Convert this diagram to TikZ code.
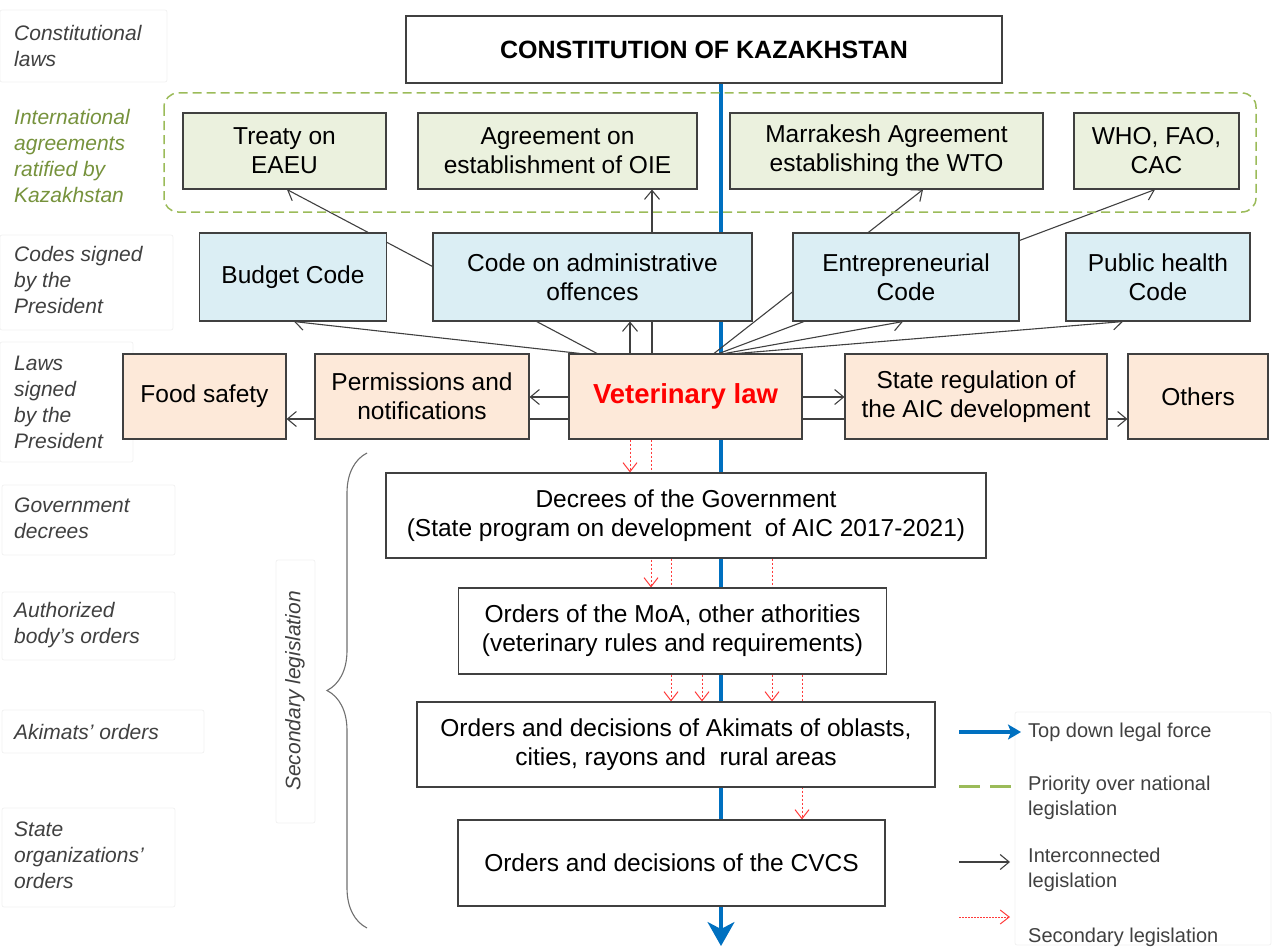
\documentclass[tikz,border=0pt]{standalone}
\usepackage{fontspec}
\setmainfont{Liberation Sans}
\usetikzlibrary{arrows.meta,decorations.pathreplacing,backgrounds}
\definecolor{bdr}{HTML}{404040}
\definecolor{gfill}{HTML}{EBF1DE}
\definecolor{bfill}{HTML}{DBEEF4}
\definecolor{ofill}{HTML}{FDE9D9}
\definecolor{forceblue}{HTML}{0070C0}
\definecolor{oliveg}{HTML}{9BBB59}
\definecolor{olivetext}{HTML}{76923C}
\definecolor{secred}{HTML}{FF3B3B}
\definecolor{lblgray}{HTML}{404040}
\definecolor{faint}{HTML}{F1F1F1}
\definecolor{bracegray}{HTML}{707070}
\newcommand\myboxfont{\fontsize{24.5pt}{29pt}\selectfont}
\newcommand\mylblfont{\fontsize{21pt}{26pt}\selectfont\itshape}
\newcommand\mylegfont{\fontsize{20pt}{25pt}\selectfont}
\tikzset{
  lawbox/.style={draw=bdr, line width=1.1pt, align=center, inner sep=0pt, font=\myboxfont, text=black},
  gbox/.style={lawbox, fill=gfill},
  bbox/.style={lawbox, fill=bfill},
  obox/.style={lawbox, fill=ofill},
  wbox/.style={lawbox, fill=white},
  lbl/.style={anchor=west, align=left, font=\mylblfont, text=lblgray, inner sep=0pt},
  legtxt/.style={anchor=west, align=left, font=\mylegfont, text=lblgray, inner sep=0pt},
  faintbox/.style={draw=faint, line width=0.8pt, rounded corners=2pt},
  link/.style={draw=bdr, line width=1.1pt, -{Straight Barb[length=9pt,width=15pt]}},
  secarrow/.style={draw=secred, line width=1pt, dash pattern=on 2.5pt off 1.5pt, -{Straight Barb[length=9pt,width=14pt]}},
  force/.style={draw=forceblue, line width=3.2pt, -{Stealth[length=24pt,width=27pt,inset=7pt]}}
}
\begin{document}
\begin{tikzpicture}[x=1pt,y=-1pt]
\useasboundingbox (0,0) rectangle (1273,947);

% faint label frames
\draw[faintbox] (0,10) rectangle (167,82);
\draw[faintbox] (0,235) rectangle (173,330);
\draw[faintbox] (0,342) rectangle (133,462);
\draw[faintbox] (2,485) rectangle (175,555);
\draw[faintbox] (2,592) rectangle (175,660);
\draw[faintbox] (2,710) rectangle (204,753);
\draw[faintbox] (2,808) rectangle (175,907);
\draw[faintbox] (276,560) rectangle (315,823);
\draw[faintbox] (1015,712) rectangle (1271,945);

% left labels
\node[lbl] (lcon) at (14,46) {Constitutional\\laws};
\node[lbl, text=olivetext] (lint) at (14,156) {International\\agreements\\ratified by\\Kazakhstan};
\node[lbl] (lcod) at (14,280) {Codes signed\\by the\\President};
\node[lbl] (llaw) at (14,402) {Laws\\signed\\by the\\President};
\node[lbl] (lgov) at (14,518) {Government\\decrees};
\node[lbl] (laut) at (14,625) {Authorized\\body's orders};
\node[lbl] (laki) at (14,732) {Akimats' orders};
\node[lbl] (lsta) at (14,855) {State\\organizations'\\orders};
\node[lbl, rotate=90, anchor=center] (lsec) at (295,691) {Secondary legislation};

% green dashed frame
\draw[oliveg, line width=1.5pt, dash pattern=on 9pt off 5pt, rounded corners=14pt] (164,93) rectangle (1256,212);

% constitution
\node[wbox, minimum width=596pt, minimum height=67pt, font=\fontsize{25pt}{29pt}\selectfont\bfseries] (const) at (704,49.5) {CONSTITUTION OF KAZAKHSTAN};

% international agreements
\node[gbox, minimum width=203pt, minimum height=76pt] (treaty) at (284.5,151) {Treaty on\\EAEU};
\node[gbox, minimum width=279pt, minimum height=76pt] (oie) at (557.5,151) {Agreement on\\establishment of OIE};
\node[gbox, minimum width=313pt, minimum height=76pt] (wto) at (886.5,151) {Marrakesh Agreement\\establishing the WTO};
\node[gbox, minimum width=165pt, minimum height=76pt] (who) at (1156.5,151) {WHO, FAO,\\CAC};

% codes
\node[bbox, minimum width=187pt, minimum height=88pt] (budget) at (293,277) {Budget Code};
\node[bbox, minimum width=319pt, minimum height=88pt] (admin) at (592.5,277) {Code on administrative\\offences};
\node[bbox, minimum width=226pt, minimum height=88pt] (entre) at (906,277) {Entrepreneurial\\Code};
\node[bbox, minimum width=184pt, minimum height=88pt] (health) at (1158,277) {Public health\\Code};

% laws
\node[obox, minimum width=163pt, minimum height=85pt] (food) at (204.5,396.5) {Food safety};
\node[obox, minimum width=214pt, minimum height=85pt] (perm) at (422,396.5) {Permissions and\\notifications};
\node[obox, minimum width=233pt, minimum height=85pt, font=\fontsize{27.5pt}{32pt}\selectfont\bfseries, text=red] (vet) at (685.5,396.5) {Veterinary law};
\node[obox, minimum width=262pt, minimum height=85pt] (state) at (976,396.5) {State regulation of\\the AIC development};
\node[obox, minimum width=140pt, minimum height=85pt] (others) at (1198,396.5) {Others};

% secondary legislation
\node[wbox, minimum width=600pt, minimum height=85pt] (dec) at (686,515.5) {Decrees of the Government\\(State program on development\ \ of AIC 2017-2021)};
\node[wbox, minimum width=428pt, minimum height=86pt] (moa) at (672.5,631) {Orders of the MoA, other athorities\\(veterinary rules and requirements)};
\node[wbox, minimum width=518pt, minimum height=85pt] (akim) at (676,744.5) {Orders and decisions of Akimats of oblasts,\\cities, rayons and\ \ rural areas};
\node[wbox, minimum width=427pt, minimum height=86pt] (cvcs) at (671.5,863) {Orders and decisions of the CVCS};

% brace
\draw[decorate, decoration={brace, amplitude=40pt}, draw=bracegray, line width=1.1pt] (367,928) -- (367,453);

\begin{scope}[on background layer]
  \draw[force] (721,0 |- const.south) -- (721,946);
  % interconnected legislation
  \draw[link] (597,0 |- vet.north) -- (287,0 |- treaty.south);
  \draw[link] (580,0 |- vet.north) -- (294,0 |- budget.south);
  \draw[link] (630,0 |- vet.north) -- (630,0 |- admin.south);
  \draw[link] (652,0 |- vet.north) -- (652,0 |- oie.south);
  \draw[link] (714,0 |- vet.north) -- (923,0 |- wto.south);
  \draw[link] (719,0 |- vet.north) -- (1155,0 |- who.south);
  \draw[link] (725,0 |- vet.north) -- (903,0 |- entre.south);
  \draw[link] (737,0 |- vet.north) -- (1123,0 |- health.south);
  \draw[link] (vet.west |- 0,397) -- (perm.east |- 0,397);
  \draw[link] (vet.west |- 0,419) -- (food.east |- 0,419);
  \draw[link] (vet.east |- 0,397) -- (state.west |- 0,397);
  \draw[link] (vet.east |- 0,419) -- (others.west |- 0,419);
  % secondary legislation
  \draw[secarrow] (630,0 |- vet.south) -- (630,0 |- dec.north);
  \draw[secarrow] (651,0 |- vet.south) -- (651,0 |- moa.north);
  \draw[secarrow] (671,0 |- dec.south) -- (671,0 |- akim.north);
  \draw[secarrow] (772,0 |- dec.south) -- (772,0 |- akim.north);
  \draw[secarrow] (702,0 |- moa.south) -- (702,0 |- akim.north);
  \draw[secarrow] (802,0 |- moa.south) -- (802,0 |- cvcs.north);
\end{scope}

% legend
\coordinate (lb1) at (959,732); \coordinate (lb2) at (1021,732);
\draw[draw=forceblue, line width=3.2pt, -{Stealth[length=13pt,width=15pt,inset=3pt]}] (lb1) -- (lb2);
\coordinate (lg1) at (959,786); \coordinate (lg2) at (1012,786);
\draw[draw=oliveg, line width=3pt, dash pattern=on 21pt off 10pt] (lg1) -- (lg2);
\coordinate (lk1) at (959,862); \coordinate (lk2) at (1010,862);
\draw[link] (lk1) -- (lk2);
\coordinate (lr1) at (959,917); \coordinate (lr2) at (1010,917);
\draw[secarrow, dash pattern=on 2pt off 1pt] (lr1) -- (lr2);
\node[legtxt] (t1) at (1028,732) {Top down legal force};
\node[legtxt] (t2) at (1028,797.5) {Priority over national\\legislation};
\node[legtxt] (t3) at (1028,870) {Interconnected\\legislation};
\node[legtxt] (t4) at (1028,937) {Secondary legislation};
\end{tikzpicture}
\end{document}
